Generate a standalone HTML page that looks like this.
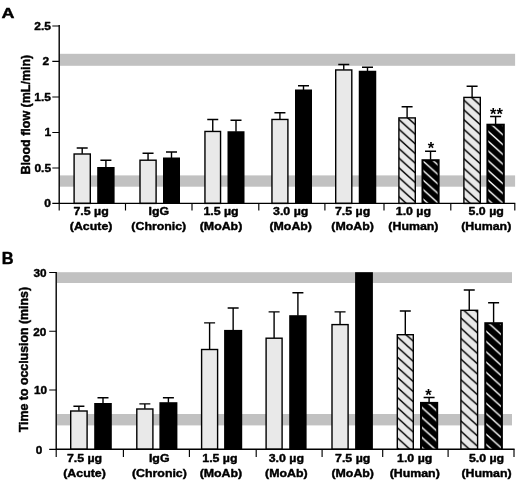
<!DOCTYPE html>
<html lang="en"><head><meta charset="utf-8"><title>Figure</title>
<style>html,body{margin:0;padding:0;background:#fff;}body{width:520px;height:482px;overflow:hidden;}svg{display:block;filter:blur(0.35px);}text{font-family:"Liberation Sans", Arial, Helvetica, sans-serif;font-weight:bold;font-size:12px;fill:#000;stroke:#000;stroke-width:0.45px;stroke-linejoin:round;}</style>
</head><body>
<svg width="520" height="482" viewBox="0 0 520 482">
<defs>
<pattern id="hA11" patternUnits="userSpaceOnUse" width="10.72" height="9.65" patternTransform="translate(399.3,119.9)"><rect width="11.72" height="10.65" fill="#e9e9e9"/><path d="M-3 -2.7 L13.72 12.35 M-3 6.95 L3 12.35 M7.72 -2.7 L13.72 2.7" stroke="#000" stroke-width="1.5"/></pattern>
<pattern id="hA12" patternUnits="userSpaceOnUse" width="10.56" height="9.5" patternTransform="translate(423,161)"><rect width="11.56" height="10.5" fill="#000"/><path d="M-3 -2.7 L13.56 12.2 M-3 6.8 L3 12.2 M7.56 -2.7 L13.56 2.7" stroke="#fff" stroke-width="1.35"/></pattern>
<pattern id="hA13" patternUnits="userSpaceOnUse" width="10.83" height="9.75" patternTransform="translate(464.3,110.3)"><rect width="11.83" height="10.75" fill="#e9e9e9"/><path d="M-3 -2.7 L13.83 12.45 M-3 7.05 L3 12.45 M7.83 -2.7 L13.83 2.7" stroke="#000" stroke-width="1.5"/></pattern>
<pattern id="hA14" patternUnits="userSpaceOnUse" width="10.86" height="9.77" patternTransform="translate(488,131.2)"><rect width="11.86" height="10.77" fill="#000"/><path d="M-3 -2.7 L13.86 12.47 M-3 7.07 L3 12.47 M7.86 -2.7 L13.86 2.7" stroke="#fff" stroke-width="1.35"/></pattern>
<pattern id="hB11" patternUnits="userSpaceOnUse" width="11.22" height="10.1" patternTransform="translate(397.2,336.8)"><rect width="12.22" height="11.1" fill="#e9e9e9"/><path d="M-3 -2.7 L14.22 12.8 M-3 7.4 L3 12.8 M8.22 -2.7 L14.22 2.7" stroke="#000" stroke-width="1.5"/></pattern>
<pattern id="hB12" patternUnits="userSpaceOnUse" width="11.11" height="10" patternTransform="translate(421.8,407.4)"><rect width="12.11" height="11" fill="#000"/><path d="M-3 -2.7 L14.11 12.7 M-3 7.3 L3 12.7 M8.11 -2.7 L14.11 2.7" stroke="#fff" stroke-width="1.35"/></pattern>
<pattern id="hB13" patternUnits="userSpaceOnUse" width="11.44" height="10.3" patternTransform="translate(460.9,318)"><rect width="12.44" height="11.3" fill="#e9e9e9"/><path d="M-3 -2.7 L14.44 13 M-3 7.6 L3 13 M8.44 -2.7 L14.44 2.7" stroke="#000" stroke-width="1.5"/></pattern>
<pattern id="hB14" patternUnits="userSpaceOnUse" width="11.44" height="10.3" patternTransform="translate(486,331.1)"><rect width="12.44" height="11.3" fill="#000"/><path d="M-3 -2.7 L14.44 13 M-3 7.6 L3 13 M8.44 -2.7 L14.44 2.7" stroke="#fff" stroke-width="1.35"/></pattern>
</defs>
<rect width="520" height="482" fill="#fff"/>
<g id="panelA">
<rect x="59.5" y="53.8" width="455.6" height="12" fill="#c1c1c1"/>
<rect x="59.5" y="175.4" width="455.6" height="11.3" fill="#c1c1c1"/>
<rect x="74.1" y="154" width="16.2" height="49.4" fill="#e9e9e9" stroke="#000" stroke-width="1.4"/>
<path d="M82.2 153.8 V148 M76.7 148 H87.7" stroke="#000" stroke-width="1.4" fill="none"/>
<rect x="97.2" y="167" width="17.4" height="36.9" fill="#000"/>
<path d="M105.9 167.5 V160.2 M100.4 160.2 H111.4" stroke="#000" stroke-width="1.4" fill="none"/>
<rect x="140" y="160.2" width="16.1" height="43.2" fill="#e9e9e9" stroke="#000" stroke-width="1.4"/>
<path d="M148.05 160 V153.2 M142.55 153.2 H153.55" stroke="#000" stroke-width="1.4" fill="none"/>
<rect x="163" y="157.5" width="17" height="46.4" fill="#000"/>
<path d="M171.5 158 V151.95 M166 151.95 H177" stroke="#000" stroke-width="1.4" fill="none"/>
<rect x="204.95" y="131.45" width="15.6" height="71.95" fill="#e9e9e9" stroke="#000" stroke-width="1.4"/>
<path d="M212.75 131.25 V119.45 M207.25 119.45 H218.25" stroke="#000" stroke-width="1.4" fill="none"/>
<rect x="227.5" y="131.25" width="17" height="72.65" fill="#000"/>
<path d="M236 131.75 V120.2 M230.5 120.2 H241.5" stroke="#000" stroke-width="1.4" fill="none"/>
<rect x="271.95" y="119.45" width="15.95" height="83.95" fill="#e9e9e9" stroke="#000" stroke-width="1.4"/>
<path d="M279.93 119.25 V112.7 M274.43 112.7 H285.43" stroke="#000" stroke-width="1.4" fill="none"/>
<rect x="295" y="89.5" width="17" height="114.4" fill="#000"/>
<path d="M303.5 90 V85.7 M298 85.7 H309" stroke="#000" stroke-width="1.4" fill="none"/>
<rect x="335.7" y="69.95" width="16.1" height="133.45" fill="#e9e9e9" stroke="#000" stroke-width="1.4"/>
<path d="M343.75 69.75 V64.45 M338.25 64.45 H349.25" stroke="#000" stroke-width="1.4" fill="none"/>
<rect x="358.75" y="70.75" width="17.5" height="133.15" fill="#000"/>
<path d="M367.5 71.25 V67.2 M362 67.2 H373" stroke="#000" stroke-width="1.4" fill="none"/>
<rect x="398.9" y="117.9" width="16.4" height="85.5" fill="url(#hA11)" stroke="#000" stroke-width="1.4"/>
<path d="M407.1 117.7 V106.7 M401.6 106.7 H412.6" stroke="#000" stroke-width="1.4" fill="none"/>
<rect x="421.5" y="159.2" width="18.1" height="44.7" fill="#000"/>
<rect x="423.5" y="161.2" width="14.1" height="42.2" fill="url(#hA12)"/>
<path d="M430.55 159.7 V151.2 M425.05 151.2 H436.05" stroke="#000" stroke-width="1.4" fill="none"/>
<text transform="translate(430.95,153.8) scale(1,1)" text-anchor="middle" style="font-size:16.5px;stroke:none">*</text>
<rect x="463.9" y="97.4" width="16.4" height="106" fill="url(#hA13)" stroke="#000" stroke-width="1.4"/>
<path d="M472.1 97.2 V86.2 M466.6 86.2 H477.6" stroke="#000" stroke-width="1.4" fill="none"/>
<rect x="486.4" y="123.7" width="18.4" height="80.2" fill="#000"/>
<rect x="488.4" y="125.7" width="14.4" height="77.7" fill="url(#hA14)"/>
<path d="M495.6 124.2 V116.5 M490.1 116.5 H501.1" stroke="#000" stroke-width="1.4" fill="none"/>
<text transform="translate(496.4,120.4) scale(1,1)" text-anchor="middle" style="font-size:16.5px;stroke:none">**</text>
<path d="M59.2 25 V203.4 H515.3" stroke="#000" stroke-width="1.4" fill="none"/>
<path d="M52.3 26 H59.2 M52.3 61.3 H59.2 M52.3 97 H59.2 M52.3 132.5 H59.2 M52.3 168 H59.2 M52.3 203.4 H59.2" stroke="#000" stroke-width="1.15" fill="none"/>
<text transform="translate(50.9,29.8) scale(1,0.93)" text-anchor="end">2.5</text>
<text transform="translate(49.1,65.1) scale(1,0.93)" text-anchor="end">2</text>
<text transform="translate(50.9,100.8) scale(1,0.93)" text-anchor="end">1.5</text>
<text transform="translate(51.3,136.3) scale(1,0.93)" text-anchor="end">1</text>
<text transform="translate(51.1,171.8) scale(1,0.93)" text-anchor="end">0.5</text>
<text transform="translate(50.9,207.2) scale(1,0.93)" text-anchor="end">0</text>
<path d="M59.2 203.4 V210.6 M125.5 203.4 V210.6 M192 203.4 V210.6 M258.8 203.4 V210.6 M324.9 203.4 V210.6 M384 203.4 V210.6 M450.8 203.4 V210.6 M514.8 203.4 V210.6" stroke="#000" stroke-width="1.15" fill="none"/>
<text transform="translate(91.1,215.3) scale(1.03,0.86)" text-anchor="middle">7.5 µg</text>
<text transform="translate(91.1,229.9) scale(1.03,0.86)" text-anchor="middle">(Acute)</text>
<text transform="translate(158.8,215.3) scale(1.03,0.86)" text-anchor="middle">IgG</text>
<text transform="translate(158.8,229.9) scale(1.03,0.86)" text-anchor="middle">(Chronic)</text>
<text transform="translate(221,215.3) scale(1.03,0.86)" text-anchor="middle">1.5 µg</text>
<text transform="translate(221,229.9) scale(1.03,0.86)" text-anchor="middle">(MoAb)</text>
<text transform="translate(290.7,215.3) scale(1.03,0.86)" text-anchor="middle">3.0 µg</text>
<text transform="translate(290.7,229.9) scale(1.03,0.86)" text-anchor="middle">(MoAb)</text>
<text transform="translate(352.6,215.3) scale(1.03,0.86)" text-anchor="middle">7.5 µg</text>
<text transform="translate(352.6,229.9) scale(1.03,0.86)" text-anchor="middle">(MoAb)</text>
<text transform="translate(413.4,215.3) scale(1.03,0.86)" text-anchor="middle">1.0 µg</text>
<text transform="translate(413.4,229.9) scale(1.03,0.86)" text-anchor="middle">(Human)</text>
<text transform="translate(486.2,215.3) scale(1.03,0.86)" text-anchor="middle">5.0 µg</text>
<text transform="translate(486.2,229.9) scale(1.03,0.86)" text-anchor="middle">(Human)</text>
<text transform="translate(29.6,114.7) rotate(-90) scale(1.04,1)" text-anchor="middle">Blood flow (mL/min)</text>
<text transform="translate(1.4,18.2) scale(1.16,1)" text-anchor="start" style="font-size:15.5px">A</text>
</g>
<g id="panelB">
<rect x="57" y="272.2" width="455" height="10.8" fill="#c1c1c1"/>
<rect x="57" y="414" width="455" height="11.4" fill="#c1c1c1"/>
<rect x="70.7" y="411" width="16.4" height="38.3" fill="#e9e9e9" stroke="#000" stroke-width="1.4"/>
<path d="M78.9 410.8 V406.2 M73.4 406.2 H84.4" stroke="#000" stroke-width="1.4" fill="none"/>
<rect x="94.2" y="403" width="17.6" height="46.8" fill="#000"/>
<path d="M103 403.5 V397.7 M97.5 397.7 H108.5" stroke="#000" stroke-width="1.4" fill="none"/>
<rect x="136.8" y="409" width="16.1" height="40.3" fill="#e9e9e9" stroke="#000" stroke-width="1.4"/>
<path d="M144.85 408.8 V403.9 M139.35 403.9 H150.35" stroke="#000" stroke-width="1.4" fill="none"/>
<rect x="159.4" y="402.2" width="18" height="47.6" fill="#000"/>
<path d="M168.4 402.7 V397.8 M162.9 397.8 H173.9" stroke="#000" stroke-width="1.4" fill="none"/>
<rect x="201.6" y="349.5" width="16" height="99.8" fill="#e9e9e9" stroke="#000" stroke-width="1.4"/>
<path d="M209.6 349.3 V322.9 M204.1 322.9 H215.1" stroke="#000" stroke-width="1.4" fill="none"/>
<rect x="224.1" y="329.9" width="18.1" height="119.9" fill="#000"/>
<path d="M233.15 330.4 V308 M227.65 308 H238.65" stroke="#000" stroke-width="1.4" fill="none"/>
<rect x="266.1" y="338.2" width="16" height="111.1" fill="#e9e9e9" stroke="#000" stroke-width="1.4"/>
<path d="M274.1 338 V311.9 M268.6 311.9 H279.6" stroke="#000" stroke-width="1.4" fill="none"/>
<rect x="289.2" y="315.2" width="17.4" height="134.6" fill="#000"/>
<path d="M297.9 315.7 V292.7 M292.4 292.7 H303.4" stroke="#000" stroke-width="1.4" fill="none"/>
<rect x="332" y="324.6" width="16.1" height="124.7" fill="#e9e9e9" stroke="#000" stroke-width="1.4"/>
<path d="M340.05 324.4 V311.9 M334.55 311.9 H345.55" stroke="#000" stroke-width="1.4" fill="none"/>
<rect x="355.1" y="272.2" width="17.8" height="177.6" fill="#000"/>
<rect x="397.3" y="334.7" width="16" height="114.6" fill="url(#hB11)" stroke="#000" stroke-width="1.4"/>
<path d="M405.3 334.5 V311 M399.8 311 H410.8" stroke="#000" stroke-width="1.4" fill="none"/>
<rect x="420" y="401.9" width="18.2" height="47.9" fill="#000"/>
<rect x="422" y="403.9" width="14.2" height="45.4" fill="url(#hB12)"/>
<path d="M429.1 402.4 V397.5 M423.6 397.5 H434.6" stroke="#000" stroke-width="1.4" fill="none"/>
<text transform="translate(428.5,401.3) scale(1,1)" text-anchor="middle" style="font-size:16.5px;stroke:none">*</text>
<rect x="460.9" y="310.3" width="16.7" height="139" fill="url(#hB13)" stroke="#000" stroke-width="1.4"/>
<path d="M469.25 310.1 V290 M463.75 290 H474.75" stroke="#000" stroke-width="1.4" fill="none"/>
<rect x="484.3" y="322.2" width="18.6" height="127.6" fill="#000"/>
<rect x="486.3" y="324.2" width="14.6" height="125.1" fill="url(#hB14)"/>
<path d="M493.6 322.7 V302.7 M488.1 302.7 H499.1" stroke="#000" stroke-width="1.4" fill="none"/>
<path d="M56.2 272 V449.3 H514.6" stroke="#000" stroke-width="1.4" fill="none"/>
<path d="M49.2 272.5 H56.2 M49.2 331.25 H56.2 M49.2 390 H56.2 M49.2 449.3 H56.2" stroke="#000" stroke-width="1.15" fill="none"/>
<text transform="translate(46.6,276.8) scale(0.98,0.94)" text-anchor="end">30</text>
<text transform="translate(46.3,335.55) scale(0.98,0.94)" text-anchor="end">20</text>
<text transform="translate(47.1,394.3) scale(0.98,0.94)" text-anchor="end">10</text>
<text transform="translate(42.4,453.6) scale(0.98,0.94)" text-anchor="end">0</text>
<path d="M56.2 449.3 V456.9 M123.4 449.3 V456.9 M189.4 449.3 V456.9 M256.2 449.3 V456.9 M322.1 449.3 V456.9 M382.7 449.3 V456.9 M448.1 449.3 V456.9 M514 449.3 V456.9" stroke="#000" stroke-width="1.15" fill="none"/>
<text transform="translate(84.5,461.9) scale(1.03,0.86)" text-anchor="middle">7.5 µg</text>
<text transform="translate(84.5,476.7) scale(1.03,0.86)" text-anchor="middle">(Acute)</text>
<text transform="translate(159.2,461.9) scale(1.03,0.86)" text-anchor="middle">IgG</text>
<text transform="translate(159.4,476.7) scale(1.03,0.86)" text-anchor="middle">(Chronic)</text>
<text transform="translate(219.9,461.9) scale(1.03,0.86)" text-anchor="middle">1.5 µg</text>
<text transform="translate(220.9,476.7) scale(1.03,0.86)" text-anchor="middle">(MoAb)</text>
<text transform="translate(286.3,461.9) scale(1.03,0.86)" text-anchor="middle">3.0 µg</text>
<text transform="translate(286.3,476.7) scale(1.03,0.86)" text-anchor="middle">(MoAb)</text>
<text transform="translate(352.7,461.9) scale(1.03,0.86)" text-anchor="middle">7.5 µg</text>
<text transform="translate(352.7,476.7) scale(1.03,0.86)" text-anchor="middle">(MoAb)</text>
<text transform="translate(414.7,461.9) scale(1.03,0.86)" text-anchor="middle">1.0 µg</text>
<text transform="translate(414.7,476.7) scale(1.03,0.86)" text-anchor="middle">(Human)</text>
<text transform="translate(486.5,461.9) scale(1.03,0.86)" text-anchor="middle">5.0 µg</text>
<text transform="translate(486.5,476.7) scale(1.03,0.86)" text-anchor="middle">(Human)</text>
<text transform="translate(27.6,359.6) rotate(-90) scale(1.03,1)" text-anchor="middle">Time to occlusion (mins)</text>
<text transform="translate(1.8,264.3) scale(1,1)" text-anchor="start" style="font-size:16.4px">B</text>
</g>
</svg></body></html>
